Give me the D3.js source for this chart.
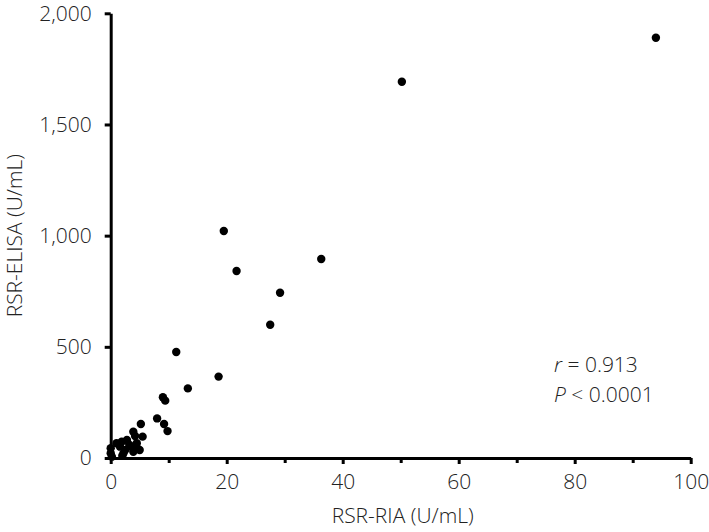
<!DOCTYPE html>
<html>
<head>
<meta charset="utf-8">
<script src="https://cdn.jsdelivr.net/npm/d3@7"></script>
<style>
  html, body { margin: 0; padding: 0; background: #fff; }
  svg text { font-family: "Open Sans", "Noto Sans", sans-serif; font-weight: 300; fill: #222; }
</style>
</head>
<body>
<svg id="chart" width="709" height="532"></svg>
<script>
// RSR-RIA (U/mL) values
const ria = [94.0, 50.2, 19.5, 21.7, 36.3, 29.2, 27.5, 11.3, 18.6, 13.3,
             9.0, 9.4, 8.0, 9.2, 9.8, 5.2, 5.5, 3.9, 4.2, 1.9,
             2.8, 1.6, 2.5, 3.6, 4.5, 5.0, 3.9, 2.2, 1.0, 0.0,
             0.0, 0.2, 4.5, 3.2, 2.0];
// RSR-ELISA (U/mL) values
const elisa = [1890, 1692, 1021, 841, 895, 743, 599, 477, 366, 313,
               273, 258, 178, 153, 121, 153, 96, 118, 99, 73,
               81, 51, 36, 51, 66, 36, 28, 21, 66, 44,
               21, 6, 46, 60, 10];
const xMajorTicks = [0, 20, 40, 60, 80, 100];
const xMinorTicks = [10, 30, 50, 70, 90];
const yTicks = [0, 500, 1000, 1500, 2000];
const xTitle = "RSR-RIA (U/mL)";
const yTitle = "RSR-ELISA (U/mL)";
const rText = "0.913";
const pText = "0.0001";

const svg = d3.select("#chart");
const x = d3.scaleLinear().domain([0, 100]).range([110.7, 690.7]);
const y = d3.scaleLinear().domain([0, 2000]).range([458, 13.3]);
const fs = 21;

// minor x ticks
const gxMinor = svg.append("g").attr("transform", `translate(0,${y(0)})`)
  .call(d3.axisBottom(x).tickValues(xMinorTicks).tickSize(5).tickSizeOuter(0).tickFormat(""));
gxMinor.select(".domain").remove();
gxMinor.selectAll("line").attr("stroke", "#000").attr("stroke-width", 3);

// major x axis
const gx = svg.append("g").attr("transform", `translate(0,${y(0)})`)
  .call(d3.axisBottom(x).tickValues(xMajorTicks).tickSize(6).tickSizeOuter(0).tickPadding(10)
        .tickFormat(d3.format("d")));
gx.select(".domain").attr("stroke", "#000").attr("stroke-width", 3);
gx.selectAll("line").attr("stroke", "#000").attr("stroke-width", 3);
gx.selectAll("text").style("font-size", fs + "px").attr("fill", "#222");

// y axis
const gy = svg.append("g").attr("transform", `translate(${x(0)},0)`)
  .call(d3.axisLeft(y).tickValues(yTicks).tickSize(6).tickSizeOuter(0).tickPadding(13)
        .tickFormat(d3.format(",")));
gy.select(".domain").attr("stroke", "#000").attr("stroke-width", 3);
gy.selectAll("line").attr("stroke", "#000").attr("stroke-width", 3);
gy.selectAll("text").style("font-size", fs + "px").attr("fill", "#222");

// points
svg.append("g").selectAll("circle")
  .data(ria.map((d, i) => [d, elisa[i]]))
  .join("circle")
  .attr("cx", d => x(d[0]))
  .attr("cy", d => y(d[1]))
  .attr("r", 4.2)
  .attr("fill", "#000");

// axis titles
svg.append("text")
  .attr("x", (x(0) + x(100)) / 2 + 2)
  .attr("y", 523)
  .attr("text-anchor", "middle")
  .style("font-size", fs + "px")
  .text(xTitle);

svg.append("text")
  .attr("transform", `translate(22,${(y(0) + y(2000)) / 2}) rotate(-90)`)
  .attr("text-anchor", "middle")
  .style("font-size", fs + "px")
  .text(yTitle);

// annotation
const a1 = svg.append("text").attr("x", 554).attr("y", 372).style("font-size", fs + "px");
a1.append("tspan").style("font-style", "italic").text("r");
a1.append("tspan").text(" = " + rText);
const a2 = svg.append("text").attr("x", 554).attr("y", 402).style("font-size", fs + "px");
a2.append("tspan").style("font-style", "italic").text("P");
a2.append("tspan").text(" < " + pText);
</script>
</body>
</html>
